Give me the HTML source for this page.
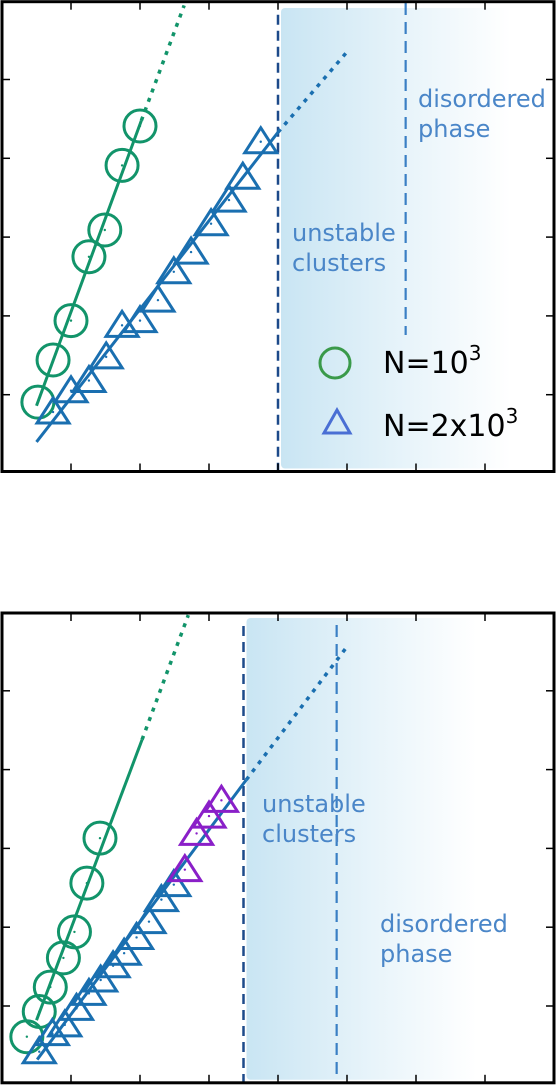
<!DOCTYPE html>
<html><head><meta charset="utf-8">
<style>
html,body{margin:0;padding:0;background:#fff;}
svg{display:block;font-family:"DejaVu Sans","Liberation Sans",sans-serif;}
</style></head>
<body>
<svg id="chart" width="556" height="1086" viewBox="0 0 556 1086" xmlns="http://www.w3.org/2000/svg">
<defs>
<linearGradient id="shade" x1="0" x2="1" y1="0" y2="0">
<stop offset="0" stop-color="#c9e5f3"/>
<stop offset="0.55" stop-color="#e8f4fa"/>
<stop offset="1" stop-color="#ffffff"/>
</linearGradient>
</defs>
<g id="p1"></g>
<g id="p2"></g>
</svg>
<script>
// ---- data: top panel ----
const topCircX = [0.52, 0.74, 1.0, 1.26, 1.49, 1.74, 2.0];
const topCircY = [0.905, 1.44, 1.94, 2.75, 3.09, 3.91, 4.41];
const topTriX = [0.74, 1.0, 1.26, 1.51, 1.74, 2.0, 2.26, 2.49, 2.74, 3.03, 3.29, 3.49, 3.75];
const topTriY = [0.78, 1.05, 1.18, 1.48, 1.88, 1.94, 2.20, 2.56, 2.81, 3.17, 3.47, 3.76, 4.21];
const topGreenFitX = [0.5, 2.02, 2.64];
const topGreenFitY = [0.86, 4.48, 5.94];
const topBlueFitX = [0.5, 4.0, 5.0];
const topBlueFitY = [0.40, 4.33, 5.35];
const topBounds = [4.0, 5.85];
// ---- data: bottom panel ----
const botCircX = [0.36, 0.54, 0.70, 0.89, 1.05, 1.23, 1.42];
const botCircY = [0.61, 0.93, 1.24, 1.61, 1.94, 2.56, 3.13];
const botTriX = [0.54, 0.73, 0.91, 1.08, 1.26, 1.43, 1.61, 1.77, 1.95, 2.13, 2.31, 2.49];
const botTriY = [0.42, 0.65, 0.76, 0.97, 1.16, 1.33, 1.51, 1.67, 1.87, 2.07, 2.35, 2.54];
const botPurpX = [2.65, 2.82, 3.00, 3.18];
const botPurpY = [2.73, 3.19, 3.41, 3.61];
const botGreenFitX = [0.50, 2.03, 2.70];
const botGreenFitY = [0.82, 4.38, 5.96];
const botBlueFitX = [0.51, 3.54, 5.0];
const botBlueFitY = [0.32, 3.87, 5.56];
const botBounds = [3.50, 4.85];
const xTicks = [1,2,3,4,5,6,7];
const yTicks = [1,2,3,4,5];

const NS = "http://www.w3.org/2000/svg";
function mk(parent, tag, attrs){const e=document.createElementNS(NS,tag);for(const k in attrs)e.setAttribute(k,attrs[k]);parent.appendChild(e);return e;}

function panel(g, y0, cfg){
  const sx = v => 2 + v*69;
  const sy = v => y0 - v*78.8;
  const top = y0 - 6*78.8 + 14, bot = y0 - 2;
  const sh = mk(g,'rect',{x:sx(cfg.bounds[0])+3,y:cfg.shadeTop,width:230,height:bot-cfg.shadeTop-3,rx:4,fill:'url(#shade)'});
  
  
  const d1 = mk(g,'line',{x1:sx(cfg.bounds[0]),x2:sx(cfg.bounds[0]),y1:top,y2:bot,stroke:'#1d4a8a','stroke-width':2.5,'stroke-dasharray':'10,6'});
  
  
  const d2 = mk(g,'line',{x1:sx(cfg.bounds[1]),x2:sx(cfg.bounds[1]),y1:cfg.d2y1,y2:cfg.d2y2,stroke:'#3a7fc4','stroke-width':2.2,'stroke-dasharray':'12,7'});
  
  
  function fit(X,Y,color,name){
    const s = mk(g,'line',{x1:sx(X[0]),y1:sy(Y[0]),x2:sx(X[1]),y2:sy(Y[1]),stroke:color,'stroke-width':3});
    
    
    const d = mk(g,'line',{x1:sx(X[1]),y1:sy(Y[1]),x2:sx(X[2]),y2:sy(Y[2]),stroke:color,'stroke-width':3.5,'stroke-dasharray':'4,6'});
    
    
  }
  fit(cfg.gfx,cfg.gfy,'#12946a','green');
  fit(cfg.bfx,cfg.bfy,'#1a6fb0','blue');
  cfg.cx.forEach((v,i)=>{
    const c = mk(g,'circle',{cx:sx(v),cy:sy(cfg.cy[i]),r:16,fill:'none',stroke:'#12946a','stroke-width':3});
    
    
    mk(g,'circle',{cx:sx(v),cy:sy(cfg.cy[i]),r:1.2,fill:'#12946a'});
  });
  function tri(X,Y,color,name){
    X.forEach((v,i)=>{
      const x=sx(v), y=sy(Y[i]);
      const t = mk(g,'polygon',{points:`${x},${y-14} ${x-16},${y+11} ${x+16},${y+11}`,fill:'none',stroke:color,'stroke-width':3});
      
      
      mk(g,'circle',{cx:x,cy:y,r:1.2,fill:color});
    });
  }
  tri(cfg.tx,cfg.ty,'#1a6fb0','triangle-point');
  if(cfg.px) tri(cfg.px,cfg.py,'#8a1fc8','purple-triangle-point');
  const lab = (txt,x,y,name)=>{const t=mk(g,'text',{x:x,y:y,fill:'#4a86c8','font-size':24});t.textContent=txt;
    
    };
  lab('unstable',cfg.ux,cfg.uy,'unstable-label');
  lab('clusters',cfg.ux,cfg.uy+30,'clusters-label');
  lab('disordered',cfg.dx,cfg.dy,'disordered-label');
  lab('phase',cfg.dx,cfg.dy+30,'phase-label');
  const fr = mk(g,'rect',{x:2,y:top-13,width:552,height:bot-top+13,fill:'none',stroke:'#000','stroke-width':3});
  
  
  xTicks.forEach(v=>{
    mk(g,'line',{x1:sx(v),x2:sx(v),y1:top-13,y2:top-5,stroke:'#000','stroke-width':1.5});
    mk(g,'line',{x1:sx(v),x2:sx(v),y1:bot,y2:bot-8,stroke:'#000','stroke-width':1.5});
  });
  yTicks.forEach(v=>{
    mk(g,'line',{x1:2,x2:10,y1:sy(v),y2:sy(v),stroke:'#000','stroke-width':1.5});
    mk(g,'line',{x1:554,x2:546,y1:sy(v),y2:sy(v),stroke:'#000','stroke-width':1.5});
  });
}
panel(document.getElementById('p1'),473.5,{
  cx:topCircX,cy:topCircY,tx:topTriX,ty:topTriY,gfx:topGreenFitX,gfy:topGreenFitY,bfx:topBlueFitX,bfy:topBlueFitY,
  bounds:topBounds,shadeTop:8,d2y1:3,d2y2:335,ux:292,uy:241,dx:418,dy:107});
panel(document.getElementById('p2'),1084.8,{
  cx:botCircX,cy:botCircY,tx:botTriX,ty:botTriY,px:botPurpX,py:botPurpY,gfx:botGreenFitX,gfy:botGreenFitY,bfx:botBlueFitX,bfy:botBlueFitY,
  bounds:botBounds,shadeTop:618,d2y1:625,d2y2:1080,ux:262,uy:812,dx:380,dy:932});
const svg=document.getElementById('chart');
const lg=mk(svg,'g',{});


const lc=mk(lg,'circle',{cx:335,cy:363,r:15,fill:'none',stroke:'#3a9a4a','stroke-width':3});


const lt=mk(lg,'polygon',{points:'337,410 324,433 350,433',fill:'none',stroke:'#4a6fd4','stroke-width':3});


const t1=mk(lg,'text',{x:383,y:373,'font-size':30,fill:'#000'});
t1.innerHTML='N=10<tspan dy="-13" font-size="20">3</tspan>';


const t2=mk(lg,'text',{x:383,y:436,'font-size':30,fill:'#000'});
t2.innerHTML='N=2x10<tspan dy="-13" font-size="20">3</tspan>';


</script>
</body></html>
